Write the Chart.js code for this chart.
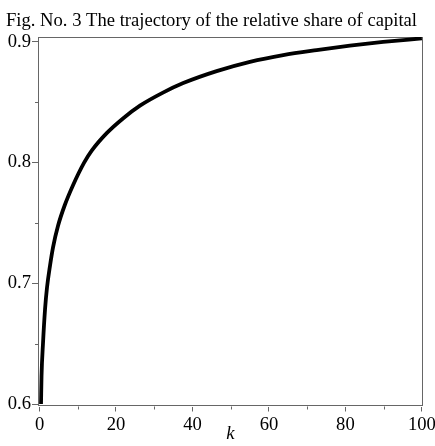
<!DOCTYPE html>
<html>
<head>
<meta charset="utf-8">
<script src="https://cdn.jsdelivr.net/npm/chart.js@4/dist/chart.umd.min.js"></script>
<style>
  html, body { margin: 0; padding: 0; background: #fff; }
  #wrap { width: 435px; height: 446px; }
</style>
</head>
<body>
<div id="wrap"><canvas id="chart" width="435" height="446"></canvas></div>
<script>
// values
var kValues = [0.39, 0.52, 0.92, 1.44, 1.96, 2.75, 3.53, 4.84, 6.59, 8.76, 11.63, 13.65, 17.57, 21.91, 26.27, 32.29, 37.59, 46.33, 55.03, 63.74, 72.47, 81.18, 89.88, 100];
var shareValues = [0.6, 0.6228, 0.651, 0.6784, 0.6966, 0.7148, 0.7298, 0.7476, 0.7646, 0.7812, 0.7997, 0.8098, 0.8243, 0.8367, 0.8471, 0.8579, 0.8658, 0.8757, 0.8834, 0.889, 0.8931, 0.8967, 0.8998, 0.9028];
var xTicks = [0, 20, 40, 60, 80, 100];
var xMinorTicks = [10, 30, 50, 70, 90];
var yTicks = [0.6, 0.7, 0.8, 0.9];
var yMinorTicks = [0.65, 0.75, 0.85];

var serif = 'Liberation Serif';
var fontSize = 18.6;
var axisGray = '#666';

var points = kValues.map(function(k, i) {
  return { x: k, y: shareValues[i] };
});

// box around the plot + short minor ticks
var framePlugin = {
  id: 'frame',
  beforeDatasetsDraw: function(chart) {
    var ctx = chart.ctx;
    var a = chart.chartArea;
    var xs = chart.scales.x;
    var ys = chart.scales.y;
    ctx.save();
    ctx.strokeStyle = axisGray;
    ctx.lineWidth = 1;
    ctx.strokeRect(Math.round(a.left) + 0.5, Math.round(a.top) + 0.5,
      Math.round(a.right - a.left) - 1, Math.round(a.bottom - a.top) - 1);
    ctx.beginPath();
    xMinorTicks.forEach(function(v) {
      var px = Math.round(xs.getPixelForValue(v)) + 0.5;
      ctx.moveTo(px, a.bottom);
      ctx.lineTo(px, a.bottom + 3);
    });
    yMinorTicks.forEach(function(v) {
      var py = Math.round(ys.getPixelForValue(v)) + 0.5;
      ctx.moveTo(a.left, py);
      ctx.lineTo(a.left - 3, py);
    });
    ctx.stroke();
    ctx.restore();
  }
};

var chart = new Chart(document.getElementById('chart'), {
  type: 'line',
  data: {
    datasets: [{
      data: points,
      borderColor: '#000',
      borderWidth: 3.8,
      pointRadius: 0,
      fill: false,
      cubicInterpolationMode: 'monotone'
    }]
  },
  options: {
    responsive: false,
    animation: false,
    layout: { padding: { left: 0, right: 12, top: 0, bottom: 0 } },
    plugins: {
      legend: { display: false },
      tooltip: { enabled: false },
      title: {
        display: true,
        text: 'Fig. No. 3 The trajectory of the relative share of capital',
        color: '#000',
        font: { family: serif, size: fontSize, weight: 'normal' },
        padding: { top: 10, bottom: 4.7 }
      }
    },
    scales: {
      x: {
        type: 'linear',
        min: -0.4,
        max: 100.3,
        afterBuildTicks: function(scale) {
          scale.ticks = xTicks.map(function(v) { return { value: v }; });
        },
        afterFit: function(scale) {
          scale.height = 39.5;
          scale.paddingLeft = 0;
          scale.paddingRight = 0;
        },
        border: { display: false },
        grid: { drawOnChartArea: false, drawTicks: true, tickLength: 5, color: axisGray },
        ticks: {
          color: '#000',
          padding: 2,
          maxRotation: 0,
          autoSkip: false,
          font: { family: serif, size: fontSize },
          callback: function(v) { return String(v); }
        },
        title: {
          display: true,
          text: 'k',
          color: '#000',
          font: { family: serif, size: fontSize, style: 'italic' },
          padding: { top: 0, bottom: 1 }
        }
      },
      y: {
        type: 'linear',
        min: 0.598,
        max: 0.9039,
        afterBuildTicks: function(scale) {
          scale.ticks = yTicks.map(function(v) { return { value: v }; });
        },
        afterFit: function(scale) {
          scale.width = 38;
          scale.paddingTop = 0;
          scale.paddingBottom = 0;
        },
        border: { display: false },
        grid: { drawOnChartArea: false, drawTicks: true, tickLength: 6, color: axisGray },
        ticks: {
          color: '#000',
          padding: 1,
          font: { family: serif, size: fontSize },
          callback: function(v) { return v.toFixed(1); }
        }
      }
    }
  },
  plugins: [framePlugin]
});
</script>
</body>
</html>
